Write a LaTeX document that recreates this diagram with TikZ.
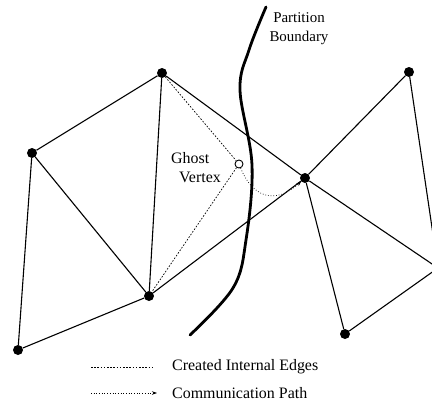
\documentclass[tikz,border=0pt]{standalone}
\usepackage{fontspec}
\setmainfont{Liberation Serif}
\usepackage{tikz}
\usetikzlibrary{arrows.meta,positioning}

\begin{document}
\begin{tikzpicture}[
  x=1bp, y=-1bp,
  vtx/.style={circle, fill=black, inner sep=0pt, minimum size=10bp},
  ghost/.style={circle, draw, line width=0.9bp, inner sep=0pt, minimum size=8bp},
  edge/.style={line width=1.1bp},
  internal/.style={line width=0.7bp, dash pattern=on 1.6bp off 1.6bp},
  comm/.style={line width=0.7bp, dotted, -{Stealth[length=5bp, width=3.5bp]}},
  boundary/.style={line width=2.8bp, line cap=round},
  lbl/.style={font=\fontsize{15}{19}\selectfont, align=center, inner sep=0pt},
  leg/.style={font=\fontsize{16}{19}\selectfont, inner sep=0pt}
]
\useasboundingbox (0,0) rectangle (432,402);
\clip (0,0) rectangle (432,402);

% vertices
\node[vtx] (top)   at (162,73)  {};
\node[vtx] (left)  at (32,153)  {};
\node[vtx] (bleft) at (18,350)  {};
\node[vtx] (mid)   at (149,296) {};
\node[vtx] (hub)   at (305,178) {};
\node[vtx] (tright) at (409,72) {};
\node[vtx] (bright) at (345,334) {};
\node[vtx] (rim)   at (438,268) {};
\node[ghost] (gv)  at (239,164) {};

% mesh edges
\draw[edge] (top) -- (left);
\draw[edge] (left) -- (bleft);
\draw[edge] (left) -- (mid);
\draw[edge] (bleft) -- (mid);
\draw[edge] (top) -- (mid);
\draw[edge] (top) -- (hub);
\draw[edge] (mid) -- (hub);
\draw[edge] (hub) -- (tright);
\draw[edge] (tright) -- (rim);
\draw[edge] (hub) -- (rim);
\draw[edge] (hub) -- (bright);
\draw[edge] (bright) -- (rim);

% ghost edges and message
\draw[internal] (top) -- (gv);
\draw[internal] (gv) -- (mid);
\draw[comm] (gv) .. controls (252,196) and (274,206) .. (hub);

% partition boundary
\draw[boundary] plot[smooth, tension=0.6] coordinates
  {(266,7) (249,50) (240,90) (252,165) (246,240) (233,288) (190,335)};

% labels
\node[lbl] (plabel) at (299,29) {Partition\\Boundary};
\node[leg, align=left, anchor=west] (glabel) at (171,168) {Ghost\\\hspace*{8bp}Vertex};

% legend
\coordinate (ia) at (91,367);
\coordinate (ib) at (155,367);
\coordinate (ca) at (91,393);
\coordinate (cb) at (157,393);
\draw[internal] (ia) -- (ib);
\draw[comm] (ca) -- (cb);
\node[leg, anchor=west, right=17bp of ib] (ilabel) {Created Internal Edges};
\node[leg, anchor=west, right=15bp of cb] (clabel) {Communication Path};
\end{tikzpicture}
\end{document}
